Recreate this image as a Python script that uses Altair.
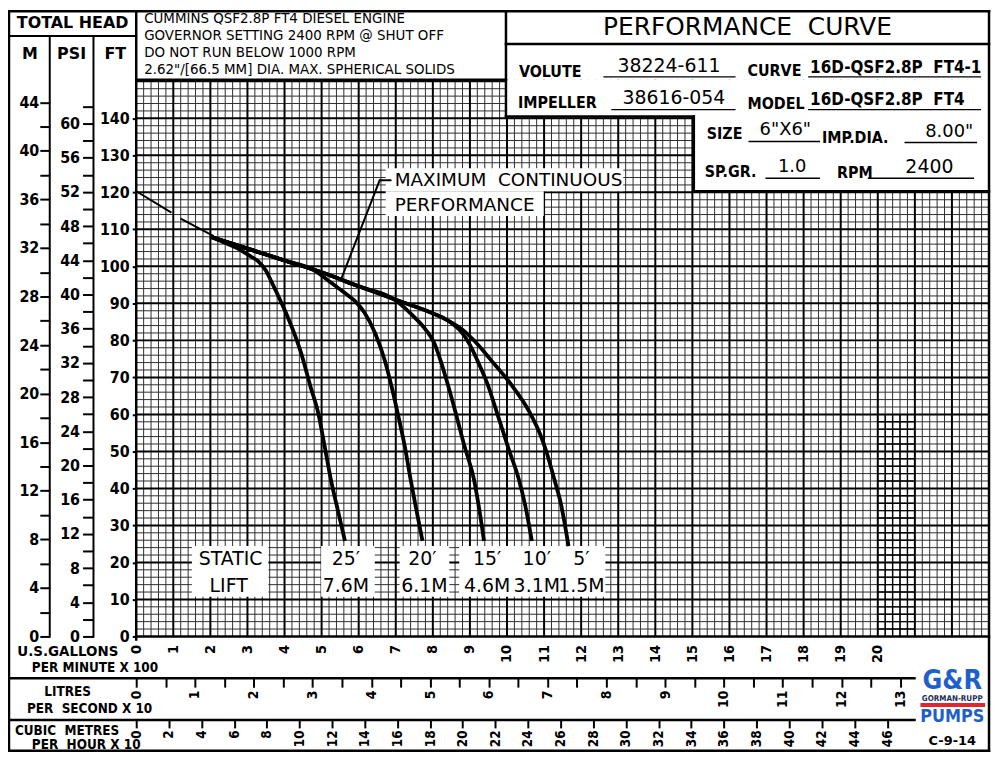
import altair as alt
import pandas as pd

# ---------------- chart values ----------------
# Flow in U.S. gallons per minute x 100, total head in feet
FLOW_MAX = 23.0
HEAD_MAX = 150.4

shutoff_flow = [0.0, 0.95, 1.2, 2.09]
shutoff_head = [120.3, 114.5, 112.9, 108.2]
shutoff_part = ["a", "a", "b", "b"]

lift_names = ["25'", "20'", "15'", "10'", "5'"]

lift_25_flow = [2.0, 2.5, 2.85, 3.1, 3.3, 3.5, 3.65, 3.9, 4.1, 4.45, 4.7, 4.91, 5.08, 5.25, 5.44, 5.63]
lift_25_head = [108.0, 105.9, 104.2, 102.6, 101.3, 98.8, 95.8, 90.5, 86.0, 76.5, 67.5, 60.3, 51.5, 42.4, 34.0, 25.8]

lift_20_flow = [2.0, 3.0, 4.0, 4.8, 5.2, 5.6, 5.9, 6.15, 6.45, 6.7, 6.9, 7.05, 7.25, 7.4, 7.56, 7.72]
lift_20_head = [108.0, 104.8, 101.6, 98.9, 96.0, 93.0, 90.6, 87.6, 81.8, 74.7, 67.0, 60.4, 51.0, 42.4, 34.0, 25.8]

lift_15_flow = [2.0, 3.0, 4.0, 5.0, 6.0, 7.0, 7.5, 7.8, 8.04, 8.2, 8.4, 8.6, 8.85, 9.11, 9.25, 9.38]
lift_15_head = [108.0, 104.8, 101.6, 98.4, 94.6, 90.8, 86.3, 83.0, 79.2, 74.8, 68.2, 61.0, 51.5, 42.4, 34.5, 25.8]

lift_10_flow = [2.0, 3.0, 4.0, 5.0, 6.0, 7.0, 7.5, 8.0, 8.4, 8.75, 9.0, 9.2, 9.5, 9.73, 10.05, 10.32, 10.5, 10.67]
lift_10_head = [108.0, 104.8, 101.6, 98.4, 94.6, 91.0, 89.2, 87.3, 85.4, 82.5, 78.8, 74.6, 67.5, 60.4, 50.5, 42.4, 35.0, 25.8]

lift_5_flow = [2.0, 3.0, 4.0, 5.0, 6.0, 7.0, 7.5, 8.0, 8.4, 8.8, 9.2, 9.54, 10.08, 10.62, 10.9, 11.07, 11.26, 11.45, 11.66]
lift_5_head = [108.0, 104.8, 101.6, 98.4, 94.6, 91.0, 89.2, 87.3, 85.4, 82.9, 79.0, 75.0, 68.5, 60.4, 54.5, 49.7, 43.0, 36.0, 24.4]

ft_ticks = list(range(0, 141, 10))
psi_ticks = list(range(0, 63, 2))
m_ticks = list(range(0, 45, 2))
gpm_ticks = list(range(0, 21))
lps_ticks = [i * 0.5 for i in range(0, 27)]
cmh_ticks = list(range(0, 47, 2))

FT_PER_PSI = 2.31
FT_PER_M = 3.28084
GPM_PER_LPS = 15.8503
GPM_PER_CMH = 4.40287

# ---------------- layout (page pixels) ----------------
X0, Y0 = 137, 78
W, H = 858, 560

FONT = "DejaVu Sans"
FONT_C = "DejaVu Sans Condensed, DejaVu Sans"
BLUE = "#1f5fcc"
SP2 = "\u00a0\u00a0"

xs = alt.Scale(domain=[0, FLOW_MAX], nice=False, zero=False)
ys = alt.Scale(domain=[0, HEAD_MAX], nice=False, zero=False)


def rules_layer(rows, cap="square", color="black"):
    df = pd.DataFrame(rows, columns=["x1", "y1", "x2", "y2", "w"])
    df["x1"] -= X0
    df["x2"] -= X0
    df["y1"] -= Y0
    df["y2"] -= Y0
    return alt.Chart(df).mark_rule(color=color, strokeCap=cap).encode(
        x=alt.X("x1:Q", scale=None, axis=None),
        x2="x2:Q",
        y=alt.Y("y1:Q", scale=None, axis=None),
        y2="y2:Q",
        strokeWidth=alt.StrokeWidth("w:Q", scale=None, legend=None),
    )


def rects_layer(rows, color="white"):
    df = pd.DataFrame(rows, columns=["x1", "y1", "x2", "y2"])
    df["x1"] -= X0
    df["x2"] -= X0
    df["y1"] -= Y0
    df["y2"] -= Y0
    return alt.Chart(df).mark_rect(color=color, opacity=1).encode(
        x=alt.X("x1:Q", scale=None, axis=None),
        x2="x2:Q",
        y=alt.Y("y1:Q", scale=None, axis=None),
        y2="y2:Q",
    )


def text_layer(rows, font=FONT, weight="normal", align="left", color="black"):
    df = pd.DataFrame(rows, columns=["t", "x", "y", "s"])
    df["x"] -= X0
    df["y"] -= Y0
    return alt.Chart(df).mark_text(
        font=font, fontWeight=weight, align=align, baseline="middle", color=color
    ).encode(
        x=alt.X("x:Q", scale=None, axis=None),
        y=alt.Y("y:Q", scale=None, axis=None),
        text="t:N",
        size=alt.Size("s:Q", scale=None, legend=None),
    )


# ---------------- grid ----------------
minor_x = [round(i * 0.2, 2) for i in range(1, 115) if i % 5 != 0]
major_x = list(range(1, 23))
minor_y = [i * 2 for i in range(1, 75) if i % 5 != 0]
major_y = list(range(10, 151, 10))

grid_minor_v = alt.Chart(pd.DataFrame({"v": minor_x})).mark_rule(color="#2e2e2e", strokeWidth=1).encode(
    x=alt.X("v:Q", scale=xs, axis=None))
grid_minor_h = alt.Chart(pd.DataFrame({"v": minor_y})).mark_rule(color="#2e2e2e", strokeWidth=1).encode(
    y=alt.Y("v:Q", scale=ys, axis=None))
grid_major_v = alt.Chart(pd.DataFrame({"v": major_x})).mark_rule(color="black", strokeWidth=2).encode(
    x=alt.X("v:Q", scale=xs, axis=None))
grid_major_h = alt.Chart(pd.DataFrame({"v": major_y})).mark_rule(color="black", strokeWidth=2).encode(
    y=alt.Y("v:Q", scale=ys, axis=None))

# darker patch of the printed grid
dense_v = alt.Chart(pd.DataFrame({"v": [20.2, 20.4, 20.6, 20.8], "a": 0, "b": 60})).mark_rule(
    color="black", strokeWidth=1.4).encode(
    x=alt.X("v:Q", scale=xs, axis=None), y=alt.Y("a:Q", scale=ys, axis=None), y2="b:Q")
dense_h = alt.Chart(pd.DataFrame({"v": [v for v in range(2, 60, 2) if v % 10], "a": 20.0, "b": 21.0})).mark_rule(
    color="black", strokeWidth=1.4).encode(
    y=alt.Y("v:Q", scale=ys, axis=None), x=alt.X("a:Q", scale=xs, axis=None), x2="b:Q")

# ---------------- white areas ----------------
white = rects_layer([
    (509, 78, 995, 115),
    (698, 78, 995, 190),
    (388, 167, 627, 190),
    (388, 190, 547, 215),
    (193, 547, 270, 598),
    (323, 547, 377, 598),
    (402, 547, 452, 598),
    (462, 547, 609, 598),
])

# ---------------- curves ----------------
rows = []
for name, fl, hd in zip(lift_names,
                        [lift_25_flow, lift_20_flow, lift_15_flow, lift_10_flow, lift_5_flow],
                        [lift_25_head, lift_20_head, lift_15_head, lift_10_head, lift_5_head]):
    for f, h in zip(fl, hd):
        rows.append({"lift": name, "flow": f, "head": h})
curves_df = pd.DataFrame(rows)

curves = alt.Chart(curves_df).mark_line(color="black", strokeWidth=3.8, interpolate="monotone").encode(
    x=alt.X("flow:Q", scale=xs, axis=None),
    y=alt.Y("head:Q", scale=ys, axis=None),
    detail="lift:N",
)

shutoff = alt.Chart(pd.DataFrame({"flow": shutoff_flow, "head": shutoff_head, "part": shutoff_part})).mark_line(
    color="black", strokeWidth=2).encode(
    x=alt.X("flow:Q", scale=xs, axis=None),
    y=alt.Y("head:Q", scale=ys, axis=None),
    detail="part:N",
)

# ---------------- axes ----------------
one = pd.DataFrame({"v": [0]})
ax_common = dict(domain=False, grid=False, title=None, labelColor="black", tickColor="black",
                 labelFont=FONT_C, labelFontWeight="bold", labelOverlap=False, labelFlush=False,
                 labelBound=False)

ft_axis = alt.Chart(one).mark_point(opacity=0, size=0).encode(
    y=alt.Y("v:Q", scale=ys, axis=alt.Axis(orient="left", values=ft_ticks, tickSize=4, tickWidth=2,
                                           labelPadding=3, labelFontSize=16, **ax_common)))
psi_axis = alt.Chart(one).mark_point(opacity=0, size=0).encode(
    y=alt.Y("v:Q", scale=alt.Scale(domain=[0, HEAD_MAX / FT_PER_PSI], nice=False, zero=False),
            axis=alt.Axis(orient="left", offset=43, values=psi_ticks, tickSize=11, tickWidth=2,
                          labelPadding=3, labelFontSize=16,
                          labelExpr="datum.value % 4 == 0 ? format(datum.value, 'd') : ''", **ax_common)))
m_axis = alt.Chart(one).mark_point(opacity=0, size=0).encode(
    y=alt.Y("v:Q", scale=alt.Scale(domain=[0, HEAD_MAX / FT_PER_M], nice=False, zero=False),
            axis=alt.Axis(orient="left", offset=87, values=m_ticks, tickSize=10, tickWidth=2,
                          labelPadding=1, labelFontSize=16,
                          labelExpr="datum.value % 4 == 0 ? format(datum.value, 'd') : ''", **ax_common)))
gpm_axis = alt.Chart(one).mark_point(opacity=0, size=0).encode(
    x=alt.X("v:Q", scale=xs, axis=alt.Axis(orient="bottom", values=gpm_ticks, ticks=False, labelAngle=270,
                                           labelPadding=8, labelFontSize=14.5, **ax_common)))
lps_axis = alt.Chart(one).mark_point(opacity=0, size=0).encode(
    x=alt.X("v:Q", scale=alt.Scale(domain=[0, FLOW_MAX * 100 / GPM_PER_LPS / 10], nice=False, zero=False),
            axis=alt.Axis(orient="bottom", offset=42, values=lps_ticks, tickSize=9, tickWidth=2,
                          labelAngle=270, labelPadding=3, labelFontSize=14,
                          labelExpr="datum.value % 1 == 0 ? format(datum.value, 'd') : ''", **ax_common)))
cmh_axis = alt.Chart(one).mark_point(opacity=0, size=0).encode(
    x=alt.X("v:Q", scale=alt.Scale(domain=[0, FLOW_MAX * 100 / GPM_PER_CMH / 10], nice=False, zero=False),
            axis=alt.Axis(orient="bottom", offset=84, values=cmh_ticks, tickSize=8, tickWidth=2,
                          labelAngle=270, labelPadding=2, labelFontSize=13.5,
                          labelExpr="format(datum.value, 'd')", **ax_common)))

# ---------------- frame lines ----------------
frame = rules_layer([
    (9, 9, 995, 9, 2.5),
    (9, 753, 995, 753, 2.5),
    (9, 9, 9, 753, 2.5),
    (995, 9, 995, 753, 2.5),
    (9, 34, 137, 34, 2),
    (50, 34, 50, 638, 2),
    (94, 34, 94, 638, 2),
    (137, 9, 137, 641, 2.5),
    (137, 78, 509, 78, 2.5),
    (509, 9, 509, 115, 2.5),
    (509, 42, 995, 42, 2.5),
    (509, 115, 698, 115, 2.5),
    (698, 115, 698, 190, 2.5),
    (698, 190, 995, 190, 2.5),
    (137, 638, 995, 638, 2.5),
    (9, 680, 920, 680, 2.5),
    (9, 722, 920, 722, 2.5),
])
leader = rules_layer([
    (343, 279, 382, 179, 2),
    (382, 179, 393, 179, 2),
], cap="round")
underlines = rules_layer([
    (607, 75, 740, 75, 1.4),
    (813, 75, 987, 75, 1.4),
    (615, 108, 740, 108, 1.4),
    (813, 108, 987, 108, 1.4),
    (753, 140, 825, 140, 1.4),
    (910, 141, 983, 141, 1.4),
    (770, 177, 825, 177, 1.4),
    (873, 177, 980, 177, 1.4),
], cap="butt")
logo_bar = rects_layer([(926, 705, 991, 709)], color="#e0262e")

# ---------------- texts ----------------
t_head_bold = text_layer([
    ("TOTAL HEAD", 73, 21, 16),
    ("M", 30, 52, 16),
    ("PSI", 72, 52, 16),
    ("FT", 116, 52, 16),
], weight="bold", align="center")
t_notes = text_layer([
    ("CUMMINS QSF2.8P FT4 DIESEL ENGINE", 145, 17, 13.5),
    ("GOVERNOR SETTING 2400 RPM @ SHUT OFF", 145, 34, 13.5),
    ("DO NOT RUN BELOW 1000 RPM", 145, 51, 13.5),
    ('2.62"/[66.5 MM] DIA. MAX. SPHERICAL SOLIDS', 145, 68, 13.5),
])
t_title = text_layer([("PERFORMANCE" + SP2 + "CURVE", 752, 25, 25)], align="center")
t_fields = text_layer([
    ("VOLUTE", 522, 70, 16),
    ("CURVE", 752, 69, 16),
    ("IMPELLER", 521, 101, 16),
    ("MODEL", 752, 102, 16),
    ("SIZE", 711, 133, 16),
    ("IMP.DIA.", 827, 137, 16),
    ("SP.GR.", 709, 171, 16),
    ("RPM", 842, 172, 16),
], font=FONT_C, weight="bold")
t_values = text_layer([
    ("38224-611", 673, 64, 19),
    ("38616-054", 678, 96, 19),
    ('6"X6"', 790, 129, 18),
    ('8.00"', 955, 131, 18),
    ("1.0", 797, 166, 18),
    ("2400", 935, 166, 19),
], align="center")
t_models = text_layer([
    ("16D-QSF2.8P" + SP2 + "FT4-1", 815, 66, 17),
    ("16D-QSF2.8P" + SP2 + "FT4", 815, 98, 17),
], font=FONT_C, weight="bold")
t_units_r = text_layer([("U.S.GALLONS", 119, 654, 13.5)], font=FONT, weight="bold", align="right")
t_units_l = text_layer([
    ("PER MINUTE X 100", 32, 670, 13.5),
    ("PER" + SP2 + "SECOND X 10", 27, 711, 13.5),
    ("CUBIC" + SP2 + "METRES", 15, 733, 13.5),
    ("PER" + SP2 + "HOUR X 10", 32, 747, 13.5),
], font=FONT_C, weight="bold")
t_units_c = text_layer([("LITRES", 68, 694, 13.5)], font=FONT_C, weight="bold", align="center")
t_annot = text_layer([
    ("MAXIMUM" + SP2 + "CONTINUOUS", 397, 179, 18.5),
    ("PERFORMANCE", 397, 204, 18.5),
])
t_lifts = text_layer([
    ("STATIC", 232, 560, 19), ("LIFT", 230, 587, 19),
    ("25\u2032", 348, 560, 19), ("7.6M", 348, 587, 19),
    ("20\u2032", 425, 560, 19), ("6.1M", 427, 587, 19),
    ("15\u2032", 490, 560, 19), ("4.6M", 490, 587, 19),
    ("10\u2032", 540, 560, 19), ("3.1M", 540, 587, 19),
    ("5\u2032", 585, 560, 19), ("1.5M", 585, 587, 19),
], align="center")
t_logo_big = text_layer([("G&R", 958, 683, 27)], font=FONT_C, weight="bold", align="center", color=BLUE)
t_logo_small = text_layer([("GORMAN-RUPP", 958, 701, 8)], font=FONT_C, weight="bold", align="center", color="#1b2a55")
t_logo_pumps = text_layer([("PUMPS", 958, 719, 18)], font=FONT_C, weight="bold", align="center", color=BLUE)
t_code = text_layer([("C-9-14", 958, 743, 13)], weight="bold", align="center")

chart = alt.layer(
    grid_minor_v, grid_minor_h, grid_major_v, grid_major_h, dense_v, dense_h,
    white, shutoff, curves,
    ft_axis, psi_axis, m_axis, gpm_axis, lps_axis, cmh_axis,
    frame, leader, underlines, logo_bar,
    t_head_bold, t_notes, t_title, t_fields, t_values, t_models,
    t_units_r, t_units_l, t_units_c, t_annot, t_lifts,
    t_logo_big, t_logo_small, t_logo_pumps, t_code,
).resolve_scale(
    x="independent", y="independent"
).resolve_axis(
    x="independent", y="independent"
).properties(
    width=W, height=H,
    padding={"left": X0 - 8, "top": Y0 - 8, "right": 990 - (X0 - 8) - W, "bottom": 746 - (Y0 - 8) - H},
    autosize=alt.AutoSizeParams(type="none"),
    background="white",
).configure_view(stroke=None)

chart.save("out.html", embed_options={"renderer": "svg", "actions": False})
